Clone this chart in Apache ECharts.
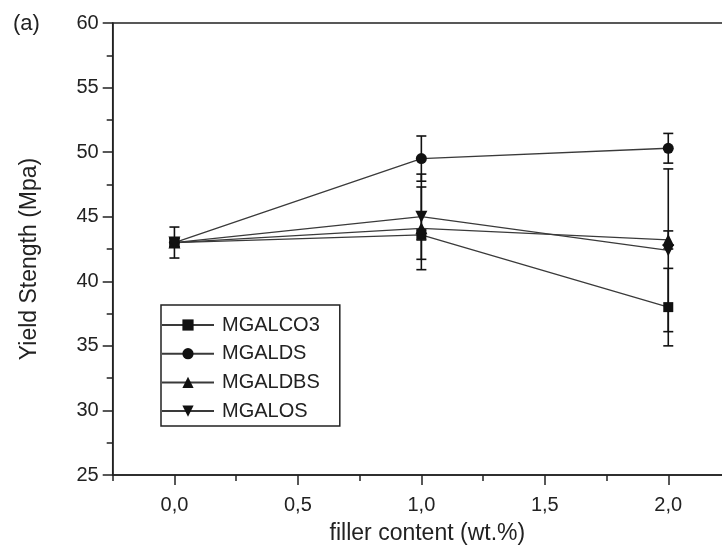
<!DOCTYPE html>
<html>
<head>
<meta charset="utf-8">
<title>Yield Strength vs filler content</title>
<script src="https://cdn.jsdelivr.net/npm/echarts@6/dist/echarts.min.js"></script>
<style>
  html, body { margin: 0; padding: 0; background: #fff; }
  #chart { width: 722px; height: 552px; }
</style>
</head>
<body>
<div id="chart"></div>
<script>
// ---- data ----
var fillerContent = [0, 1, 2];
var seriesNames = ['MGALCO3', 'MGALDS', 'MGALDBS', 'MGALOS'];

var co3Values = [43.0, 43.6, 38.0];
var co3Errors = [1.2, 0.4, 3.0];
var dsValues = [43.0, 49.5, 50.3];
var dsErrors = [0.3, 1.75, 1.15];
var dbsValues = [43.0, 44.1, 43.2];
var dbsErrors = [0.3, 3.2, 0.7];
var osValues = [43.0, 45.0, 42.4];
var osErrors = [0.3, 3.3, 6.3];

var xMajorTicks = [0, 0.5, 1, 1.5, 2];
var xMinorTicks = [-0.25, 0.25, 0.75, 1.25, 1.75, 2.25];

// ---- chart ----
(function() {
  var font = 'Liberation Sans, Arial, sans-serif';
  var ink = '#222';

  var markers = [
    { symbol: 'rect', size: 10, rotate: 0 },
    { symbol: 'circle', size: 11, rotate: 0 },
    { symbol: 'triangle', size: 12, rotate: 0 },
    { symbol: 'triangle', size: 12, rotate: 180 }
  ];
  var valueSets = [co3Values, dsValues, dbsValues, osValues];
  var errorSets = [co3Errors, dsErrors, dbsErrors, osErrors];

  function pairs(vals) {
    return fillerContent.map(function(x, i) { return [x, vals[i]]; });
  }
  function errRows(vals, errs) {
    return fillerContent.map(function(x, i) { return [x, vals[i] - errs[i], vals[i] + errs[i]]; });
  }

  // error bar with caps, positioned through the axes
  function renderErrorBar(params, api) {
    var x = api.value(0);
    var lo = api.coord([x, api.value(1)]);
    var hi = api.coord([x, api.value(2)]);
    var w = 5;
    var st = { stroke: '#111', lineWidth: 1.6 };
    return {
      type: 'group',
      children: [
        { type: 'line', shape: { x1: hi[0], y1: hi[1], x2: lo[0], y2: lo[1] }, style: st },
        { type: 'line', shape: { x1: hi[0] - w, y1: hi[1], x2: hi[0] + w, y2: hi[1] }, style: st },
        { type: 'line', shape: { x1: lo[0] - w, y1: lo[1], x2: lo[0] + w, y2: lo[1] }, style: st }
      ]
    };
  }

  var series = [];
  seriesNames.forEach(function(name, k) {
    series.push({
      type: 'custom',
      renderItem: renderErrorBar,
      data: errRows(valueSets[k], errorSets[k]),
      z: 1,
      silent: true
    });
  });
  seriesNames.forEach(function(name, k) {
    series.push({
      name: name,
      type: 'line',
      data: pairs(valueSets[k]),
      symbol: markers[k].symbol,
      symbolSize: markers[k].size,
      symbolRotate: markers[k].rotate,
      showAllSymbol: true,
      lineStyle: { color: '#3a3a3a', width: 1.3 },
      itemStyle: { color: '#111' },
      z: 2
    });
  });

  var chart = echarts.init(document.getElementById('chart'));
  chart.setOption({
    animation: false,
    backgroundColor: '#fff',
    textStyle: { fontFamily: font },
    title: {
      text: '(a)',
      left: 8,
      top: 8,
      textStyle: { fontFamily: font, fontSize: 22, fontWeight: 'normal', color: ink }
    },
    legend: {
      data: seriesNames,
      orient: 'vertical',
      left: 161,
      top: 305,
      itemWidth: 52,
      itemHeight: 14,
      itemGap: 8.7,
      padding: [10, 20, 5, 0],
      borderColor: ink,
      borderWidth: 1.5,
      textStyle: { fontFamily: font, fontSize: 20, color: ink, lineHeight: 20, padding: [0, 0, 0, 3] }
    },
    grid: {
      left: 112.7,
      top: 23,
      right: -8,
      bottom: 77,
      show: true,
      borderColor: ink,
      borderWidth: 1.5,
      outerBoundsMode: 'none'
    },
    xAxis: [
      {
        type: 'value',
        min: -0.25,
        max: 2.25,
        name: 'filler content (wt.%)',
        nameLocation: 'middle',
        nameGap: 47,
        nameTextStyle: { fontFamily: font, fontSize: 23, color: ink, padding: [0, 0, 0, 12] },
        axisLine: { show: true, onZero: false, lineStyle: { color: ink, width: 1.5 } },
        axisTick: { show: true, length: 10, customValues: xMajorTicks, lineStyle: { color: ink, width: 1.5 } },
        axisLabel: {
          customValues: xMajorTicks,
          margin: 20,
          fontFamily: font,
          fontSize: 20,
          color: ink,
          formatter: function(v) { return v.toFixed(1).replace('.', ','); }
        },
        splitLine: { show: false }
      },
      {
        type: 'value',
        position: 'bottom',
        min: -0.25,
        max: 2.25,
        axisLine: { show: false, onZero: false },
        axisTick: { show: true, length: 6, customValues: xMinorTicks, lineStyle: { color: ink, width: 1.5 } },
        axisLabel: { show: false },
        splitLine: { show: false }
      }
    ],
    yAxis: {
      type: 'value',
      min: 25,
      max: 60,
      interval: 5,
      name: 'Yield Stength (Mpa)',
      nameLocation: 'middle',
      nameGap: 72,
      nameTextStyle: { fontFamily: font, fontSize: 23, color: ink, padding: [0, 20, 0, 0] },
      axisLine: { show: true, onZero: false, lineStyle: { color: ink, width: 1.5 } },
      axisTick: { show: true, length: 10, lineStyle: { color: ink, width: 1.5 } },
      minorTick: { show: true, splitNumber: 2, length: 6, lineStyle: { color: ink, width: 1.5 } },
      axisLabel: { margin: 14, fontFamily: font, fontSize: 20, color: ink },
      splitLine: { show: false }
    },
    series: series
  });
})();
</script>
</body>
</html>
